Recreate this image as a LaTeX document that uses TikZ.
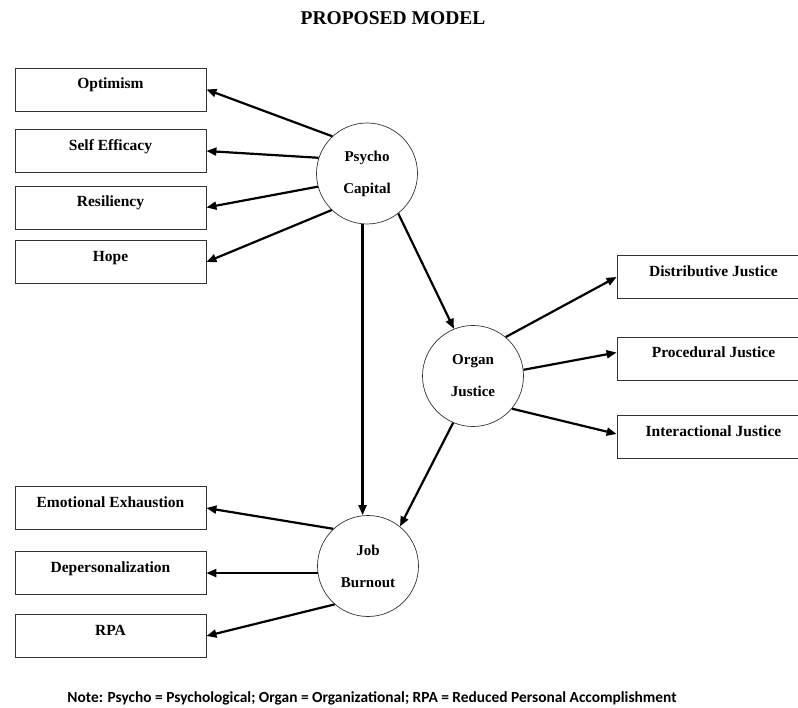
\documentclass[tikz,border=0pt]{standalone}
\usepackage{fontspec}
\setmainfont{Liberation Serif}
\newfontfamily\notefont{Carlito}
\usetikzlibrary{arrows.meta}
\begin{document}
\begin{tikzpicture}[x=1pt,y=-1pt,
  box/.style={draw=black!80,line width=0.8pt,minimum width=191pt,inner xsep=0pt,inner ysep=0pt,
     text height=21pt,text depth=22pt,font=\fontsize{15.5}{18}\selectfont\bfseries},
  rbox/.style={box,minimum width=193pt},
  circ/.style={circle,draw=black!80,line width=0.7pt,minimum size=101pt,inner sep=0pt,align=center,
     font=\fontsize{15}{32}\selectfont\bfseries},
  arr/.style={line width=2.2pt,-{Triangle[length=10pt,width=8pt]}}]
\useasboundingbox (0,0) rectangle (798,708);
\node[font=\fontsize{19.5}{22}\selectfont\bfseries] (title) at (393,18) {PROPOSED MODEL};
% left boxes
\node[box] (opt) at (110.5,89.5) {Optimism};
\node[box] (se) at (110.5,151) {Self Efficacy};
\node[box] (res) at (110.5,207.5) {Resiliency};
\node[box] (hope) at (110.5,262) {Hope};
\node[box] (emo) at (110.5,508) {Emotional Exhaustion};
\node[box] (dep) at (110.5,573) {Depersonalization};
\node[box] (rpa) at (110.5,636) {RPA};
% right boxes
\node[rbox] (dis) at (713.5,277) {Distributive Justice};
\node[rbox] (pro) at (713.5,358.5) {Procedural Justice};
\node[rbox] (int) at (713.5,437) {Interactional Justice};
% circles
\node[circ] (pc) at (367,173.5) {Psycho\\Capital};
\node[circ] (oj) at (473,376) {Organ\\Justice};
\node[circ] (jb) at (368,566) {Job\\Burnout};
% arrows
\draw[arr] (pc.133) -- (opt.east);
\draw[arr] (pc.162) -- (se.east);
\draw[arr] (pc.195) -- (res.east);
\draw[arr] (pc.226) -- (hope.east);
\draw[arr] (pc.265) -- (pc.265 |- jb.north);
\draw[arr] (pc.308) -- (oj.112);
\draw[arr] (oj.50) -- (dis.west);
\draw[arr] (oj.7) -- ([yshift=6pt]pro.west);
\draw[arr] (oj.320) -- ([yshift=3pt]int.west);
\draw[arr] (oj.247) -- (jb.51);
\draw[arr] (jb.133) -- (emo.east);
\draw[arr] (jb.188) -- (jb.188 -| dep.east);
\draw[arr] (jb.229) -- (rpa.east);
\node[font=\notefont\fontsize{15.4}{18}\selectfont\bfseries] (note) at (372,698.5) {Note: Psycho = Psychological; Organ = Organizational; RPA = Reduced Personal Accomplishment};
\end{tikzpicture}
\end{document}
